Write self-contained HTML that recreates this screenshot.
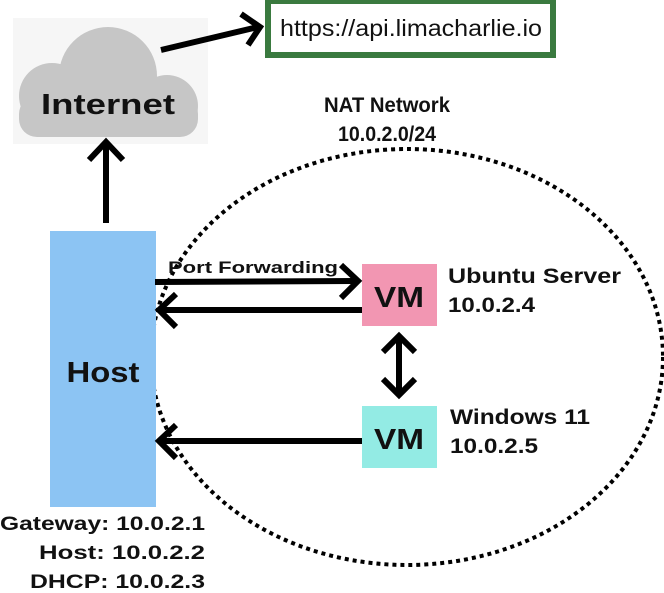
<!DOCTYPE html>
<html><head><meta charset="utf-8"><style>
html,body{margin:0;padding:0;background:#fff;}
svg{display:block;}
text{font-family:"Liberation Sans","DejaVu Sans",sans-serif;font-weight:bold;fill:#111;}
</style></head><body>
<svg width="664" height="593" viewBox="0 0 664 593" xmlns="http://www.w3.org/2000/svg">
<!-- cloud -->
<rect x="13" y="18" width="195" height="126" fill="#f6f6f6"/>
<g fill="#c6c6c6">
<circle cx="108" cy="76" r="49"/>
<circle cx="52" cy="96" r="33"/>
<circle cx="167" cy="106" r="31"/>
<rect x="19" y="96" width="179" height="41" rx="18"/>
</g>
<text x="41" y="114" font-size="29" textLength="134" lengthAdjust="spacingAndGlyphs">Internet</text>
<!-- url box -->
<rect x="268" y="1" width="285" height="54" fill="#fff" stroke="#3a7a3f" stroke-width="6"/>
<text x="280" y="36" font-size="23" style="font-weight:normal" textLength="262" lengthAdjust="spacingAndGlyphs">https://api.limacharlie.io</text>
<g stroke="#000" stroke-width="6" fill="none">
<line x1="161" y1="50" x2="258" y2="27"/>
<polyline points="241,14 260,27 248,45"/>
<line x1="106" y1="223" x2="106" y2="145"/>
<polyline points="89,160 106,142 123,160"/>
</g>
<!-- NAT -->
<text x="387" y="112" font-size="21" text-anchor="middle" textLength="126" lengthAdjust="spacingAndGlyphs">NAT Network</text>
<text x="387" y="141" font-size="21" text-anchor="middle" textLength="98" lengthAdjust="spacingAndGlyphs">10.0.2.0/24</text>
<ellipse cx="407" cy="357" rx="256" ry="208" fill="none" stroke="#000" stroke-width="4" stroke-dasharray="4,4"/>
<!-- host -->
<rect x="50" y="231" width="106" height="276" fill="#8cc4f3"/>
<text x="103" y="382" font-size="29" text-anchor="middle" textLength="73" lengthAdjust="spacingAndGlyphs">Host</text>
<!-- VMs -->
<rect x="362" y="264" width="75" height="62" fill="#f296b2"/>
<text x="399" y="307" font-size="29" text-anchor="middle" textLength="50" lengthAdjust="spacingAndGlyphs">VM</text>
<rect x="362" y="406" width="75" height="62" fill="#93ebe4"/>
<text x="399" y="449" font-size="29" text-anchor="middle" textLength="50" lengthAdjust="spacingAndGlyphs">VM</text>
<text x="168" y="273" font-size="17" textLength="170" lengthAdjust="spacingAndGlyphs">Port Forwarding</text>
<g stroke="#000" stroke-width="6" fill="none">
<line x1="155" y1="282" x2="355" y2="281"/>
<polyline points="341,265 358,281 341,298"/>
<line x1="362" y1="310" x2="160" y2="310"/>
<polyline points="176,294 159,310 176,327"/>
<line x1="362" y1="441" x2="160" y2="441"/>
<polyline points="176,425 159,441 176,458"/>
<line x1="399" y1="338" x2="399" y2="393"/>
<polyline points="383,352 399,336 415,352"/>
<polyline points="383,379 399,395 415,379"/>
</g>
<text x="448" y="283" font-size="21" textLength="173" lengthAdjust="spacingAndGlyphs">Ubuntu Server</text>
<text x="448" y="312" font-size="21" textLength="87" lengthAdjust="spacingAndGlyphs">10.0.2.4</text>
<text x="450" y="424" font-size="21" textLength="140" lengthAdjust="spacingAndGlyphs">Windows 11</text>
<text x="450" y="453" font-size="21" textLength="88" lengthAdjust="spacingAndGlyphs">10.0.2.5</text>
<!-- bottom labels -->
<text x="205" y="530" font-size="19" text-anchor="end" textLength="205" lengthAdjust="spacingAndGlyphs">Gateway: 10.0.2.1</text>
<text x="205" y="559" font-size="19" text-anchor="end" textLength="166" lengthAdjust="spacingAndGlyphs">Host: 10.0.2.2</text>
<text x="205" y="588" font-size="19" text-anchor="end" textLength="175" lengthAdjust="spacingAndGlyphs">DHCP: 10.0.2.3</text>
</svg>
</body></html>
